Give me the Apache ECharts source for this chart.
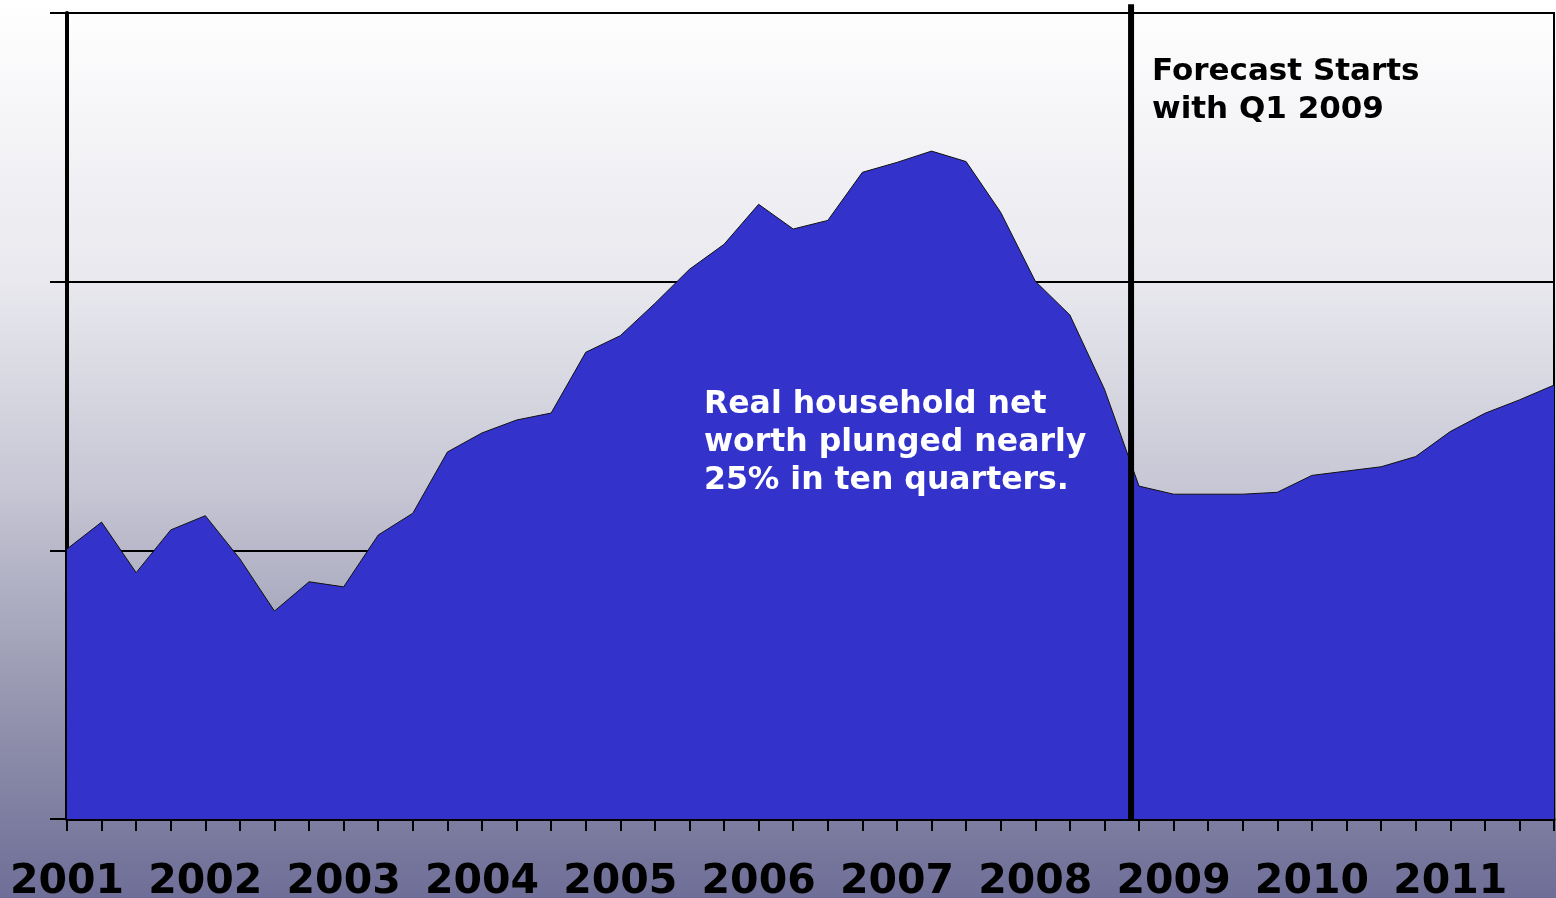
<!DOCTYPE html>
<html>
<head>
<meta charset="utf-8">
<script src="https://cdn.jsdelivr.net/npm/echarts@6/dist/echarts.min.js"></script>
<style>
  html, body { margin: 0; padding: 0; }
  #chart { width: 1556px; height: 898px; }
</style>
</head>
<body>
<div id="chart"></div>
<script>
// quarters 2001 Q1 .. 2011 Q4
var years = ['2001','2002','2003','2004','2005','2006','2007','2008','2009','2010','2011'];
var quarters = [];
years.forEach(function (y) {
  for (var q = 1; q <= 4; q++) quarters.push(y + ' Q' + q);
});

// real household net worth (index units)
var netWorth = [
  40.05, 41.05, 39.17, 40.76, 41.29, 39.68, 37.74, 38.83,
  38.64, 40.57, 41.38, 43.66, 44.37, 44.85, 45.11, 47.37,
  47.99, 49.19, 50.46, 51.39, 52.88, 51.96, 52.28, 54.07,
  54.44, 54.86, 54.47, 52.58, 50.02, 48.76, 46.00, 42.39,
  42.09, 42.09, 42.09, 42.16, 42.79, 42.95, 43.11, 43.49,
  44.42, 45.10, 45.60, 46.15
];

// forecast divider, in quarter-index units (just before 2009 Q1)
var forecastAt = 30.77;

var chart = echarts.init(document.getElementById('chart'));

var option = {
  animation: false,
  backgroundColor: {
    type: 'linear', x: 0, y: 0, x2: 0, y2: 1,
    colorStops: [
      { offset: 0, color: '#ffffff' },
      { offset: 0.315, color: '#e8e8ee' },
      { offset: 0.535, color: '#c8c8d6' },
      { offset: 0.757, color: '#9b9bb4' },
      { offset: 0.869, color: '#8585a5' },
      { offset: 1, color: '#6e6e98' }
    ]
  },
  grid: {
    left: 67, right: 2, top: 13, bottom: 79,
    show: true, borderColor: '#000', borderWidth: 2,
    backgroundColor: 'transparent',
    outerBoundsMode: 'none'
  },
  xAxis: [{
    type: 'category',
    data: quarters,
    boundaryGap: false,
    axisLine: { lineStyle: { color: '#000', width: 3 } },
    axisTick: { show: true, interval: 0, length: 12, lineStyle: { color: '#000', width: 2 } },
    axisLabel: {
      interval: 3,
      margin: 43,
      color: '#000',
      fontFamily: 'DejaVu Sans',
      fontWeight: 'bold',
      fontSize: 41,
      formatter: function (v) { return v.slice(0, 4); }
    },
    splitLine: { show: false }
  }, {
    type: 'value',
    min: 0, max: quarters.length - 1,
    show: false
  }],
  yAxis: {
    type: 'value',
    min: 30, max: 60, interval: 10,
    axisLine: { show: true, lineStyle: { color: '#000', width: 4 } },
    axisTick: { show: true, length: 17, lineStyle: { color: '#000', width: 2 } },
    axisLabel: { show: false },
    splitLine: { show: true, lineStyle: { color: '#000', width: 2 } }
  },
  series: [{
    type: 'line',
    data: netWorth,
    symbol: 'none',
    lineStyle: { color: '#111', width: 1 },
    areaStyle: { color: '#3333cc', opacity: 1, origin: 'start' },
    z: 2
  }, {
    type: 'line',
    xAxisIndex: 1,
    data: [[forecastAt, 30], [forecastAt, 60.33]],
    symbol: 'none',
    clip: false,
    lineStyle: { color: '#000', width: 6 },
    z: 5
  }],
  graphic: [{
    type: 'text',
    left: 1152, top: 53,
    style: {
      text: 'Forecast Starts\nwith Q1 2009',
      fill: '#000',
      font: 'bold 31px "DejaVu Sans"',
      lineHeight: 38
    },
    z: 10
  }, {
    type: 'text',
    left: 704, top: 386,
    style: {
      text: 'Real household net\nworth plunged nearly\n25% in ten quarters.',
      fill: '#ffffff',
      font: 'bold 31.5px "DejaVu Sans"',
      lineHeight: 38
    },
    z: 10
  }]
};

chart.setOption(option);
</script>
</body>
</html>
